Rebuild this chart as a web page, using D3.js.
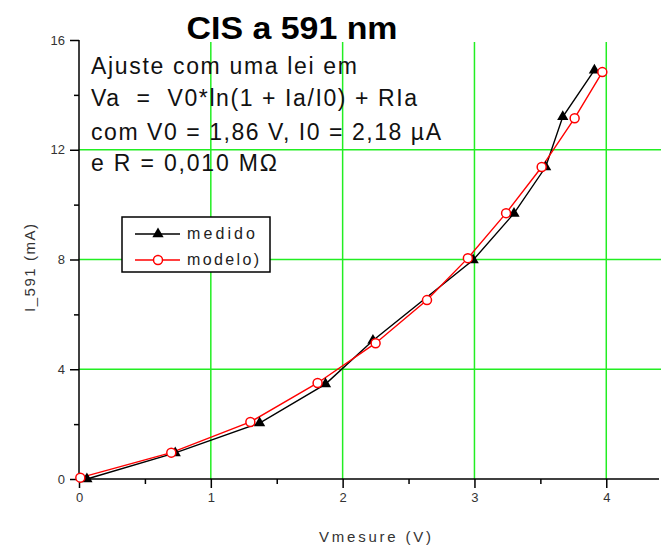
<!DOCTYPE html>
<html><head><meta charset="utf-8">
<script src="https://cdn.jsdelivr.net/npm/d3@7"></script>
<style>
html,body{margin:0;padding:0;background:#fff;}
svg{display:block;font-family:"Liberation Sans",Arial,sans-serif;}
</style></head>
<body>
<svg id="c" width="661" height="547"></svg>
<script>
const title = "CIS a 591 nm";
const xLabel = "Vmesure (V)";
const yLabel = "I_591 (mA)";
const xTicks = [0, 1, 2, 3, 4];
const yTicks = [0, 4, 8, 12, 16];
const xMinor = [0.5, 1.5, 2.5, 3.5];
const yMinor = [2, 6, 10, 14];
const medidoV = [0.06, 0.73, 1.37, 1.87, 2.23, 2.99, 3.30, 3.54, 3.67, 3.91];
const medidoI = [0.00, 0.95, 2.04, 3.46, 5.05, 7.98, 9.68, 11.37, 13.2, 14.9];
const modeloV = [0.01, 0.70, 1.30, 1.81, 2.25, 2.64, 2.95, 3.24, 3.51, 3.76, 3.97];
const modeloI = [0.05, 0.96, 2.08, 3.50, 4.95, 6.52, 8.05, 9.69, 11.37, 13.15, 14.83];
const noteLines = ["Ajuste com uma lei em", "Va  =  V0*ln(1 + Ia/I0) + RIa", "com V0 = 1,86 V, I0 = 2,18 \u00B5A", "e R = 0,010 M\u03A9"];
const legendNames = ["medido", "modelo)"];

// layout (pixels)
const noteY = [74, 106, 140, 171];
const noteW = [266, 326, 350, 186];
const legendW = [68, 72];

const svg = d3.select("#c");
const L = 79, T = 40, R = 659, B = 479;
const x = d3.scaleLinear().domain([0, 4.4]).range([L, R]);
const y = d3.scaleLinear().domain([0, 16]).range([B, T]);
const green = "#22ee22";

// grid
svg.append("g").selectAll("line").data(xTicks.slice(1)).join("line")
  .attr("x1", d => x(d)).attr("x2", d => x(d)).attr("y1", 42).attr("y2", B)
  .attr("stroke", green).attr("stroke-width", 1.5);
svg.append("g").selectAll("line").data(yTicks.slice(1, -1)).join("line")
  .attr("x1", L).attr("x2", 661).attr("y1", d => y(d)).attr("y2", d => y(d))
  .attr("stroke", green).attr("stroke-width", 1.5);

// axes
const xa = svg.append("g").attr("transform", `translate(0,${B})`)
  .call(d3.axisBottom(x).tickValues(xTicks).tickFormat(d3.format("d")).tickSize(9).tickPadding(5));
const ya = svg.append("g").attr("transform", `translate(${L},0)`)
  .call(d3.axisLeft(y).tickValues(yTicks).tickFormat(d3.format("d")).tickSize(9).tickPadding(5));
[xa, ya].forEach(a => {
  a.select(".domain").remove();
  a.selectAll("line").attr("stroke", "#000").attr("stroke-width", 1.5);
  a.selectAll("text").attr("font-size", 13).attr("fill", "#333").attr("font-family", '"Liberation Sans",Arial,sans-serif');
});
svg.append("g").attr("transform", `translate(0,${B})`)
  .call(d3.axisBottom(x).tickValues(xMinor).tickSize(5).tickFormat(""))
  .call(g => { g.select(".domain").remove(); g.selectAll("line").attr("stroke", "#000").attr("stroke-width", 1.5); });
svg.append("g").attr("transform", `translate(${L},0)`)
  .call(d3.axisLeft(y).tickValues(yMinor).tickSize(5).tickFormat(""))
  .call(g => { g.select(".domain").remove(); g.selectAll("line").attr("stroke", "#000").attr("stroke-width", 1.5); });
svg.append("line").attr("x1", L).attr("x2", R).attr("y1", B).attr("y2", B).attr("stroke", "#000").attr("stroke-width", 1.5);
svg.append("line").attr("x1", L).attr("x2", L).attr("y1", T).attr("y2", B).attr("stroke", "#000").attr("stroke-width", 1.5);

// labels
svg.append("text").attr("x", 292).attr("y", 39).attr("text-anchor", "middle")
  .attr("font-size", 32).attr("font-weight", "bold").attr("fill", "#000")
  .attr("textLength", 211).attr("lengthAdjust", "spacingAndGlyphs").text(title);
svg.append("text").attr("x", 375).attr("y", 542).attr("text-anchor", "middle")
  .attr("font-size", 15).attr("fill", "#333")
  .attr("textLength", 112).attr("lengthAdjust", "spacing").text(xLabel);
svg.append("text").attr("transform", "translate(35,268) rotate(-90)").attr("text-anchor", "middle")
  .attr("font-size", 15).attr("fill", "#333")
  .attr("textLength", 88).attr("lengthAdjust", "spacing").text(yLabel);

// annotation
svg.append("g").selectAll("text").data(noteLines).join("text")
  .attr("x", 91).attr("y", (d, i) => noteY[i])
  .attr("font-size", 23).attr("fill", "#111")
  .attr("textLength", (d, i) => noteW[i]).attr("lengthAdjust", "spacing")
  .style("white-space", "pre").text(d => d);

// data
const medido = medidoV.map((v, i) => [v, medidoI[i]]);
const modelo = modeloV.map((v, i) => [v, modeloI[i]]);
const line = d3.line().x(d => x(d[0])).y(d => y(d[1]));
svg.append("path").datum(medido).attr("d", line).attr("fill", "none").attr("stroke", "#000").attr("stroke-width", 1.4);
svg.append("path").datum(modelo).attr("d", line).attr("fill", "none").attr("stroke", "#ff0000").attr("stroke-width", 1.4);
const tri = d3.symbol().type(d3.symbolTriangle).size(55);
svg.append("g").selectAll("path").data(medido).join("path")
  .attr("transform", d => `translate(${x(d[0])},${y(d[1])})`).attr("d", tri).attr("fill", "#000");
svg.append("g").selectAll("circle").data(modelo).join("circle")
  .attr("cx", d => x(d[0])).attr("cy", d => y(d[1])).attr("r", 4.5)
  .attr("fill", "#fff").attr("stroke", "#ff0000").attr("stroke-width", 1.5);

// legend
const lg = svg.append("g");
lg.append("rect").attr("x", 122).attr("y", 217).attr("width", 148).attr("height", 55)
  .attr("fill", "#fff").attr("stroke", "#000").attr("stroke-width", 1.5);
const rows = [234, 260];
lg.append("line").attr("x1", 135).attr("x2", 180).attr("y1", rows[0]).attr("y2", rows[0]).attr("stroke", "#000").attr("stroke-width", 1.5);
lg.append("path").attr("transform", `translate(158,${rows[0]})`).attr("d", tri).attr("fill", "#000");
lg.append("line").attr("x1", 135).attr("x2", 180).attr("y1", rows[1]).attr("y2", rows[1]).attr("stroke", "#ff0000").attr("stroke-width", 1.5);
lg.append("circle").attr("cx", 158).attr("cy", rows[1]).attr("r", 4.5).attr("fill", "#fff").attr("stroke", "#ff0000").attr("stroke-width", 1.5);
lg.selectAll("text").data(legendNames).join("text")
  .attr("x", 187).attr("y", (d, i) => rows[i] + 5).attr("font-size", 16)
  .attr("textLength", (d, i) => legendW[i]).attr("lengthAdjust", "spacing")
  .attr("fill", "#222").text(d => d);
</script>
</body></html>
